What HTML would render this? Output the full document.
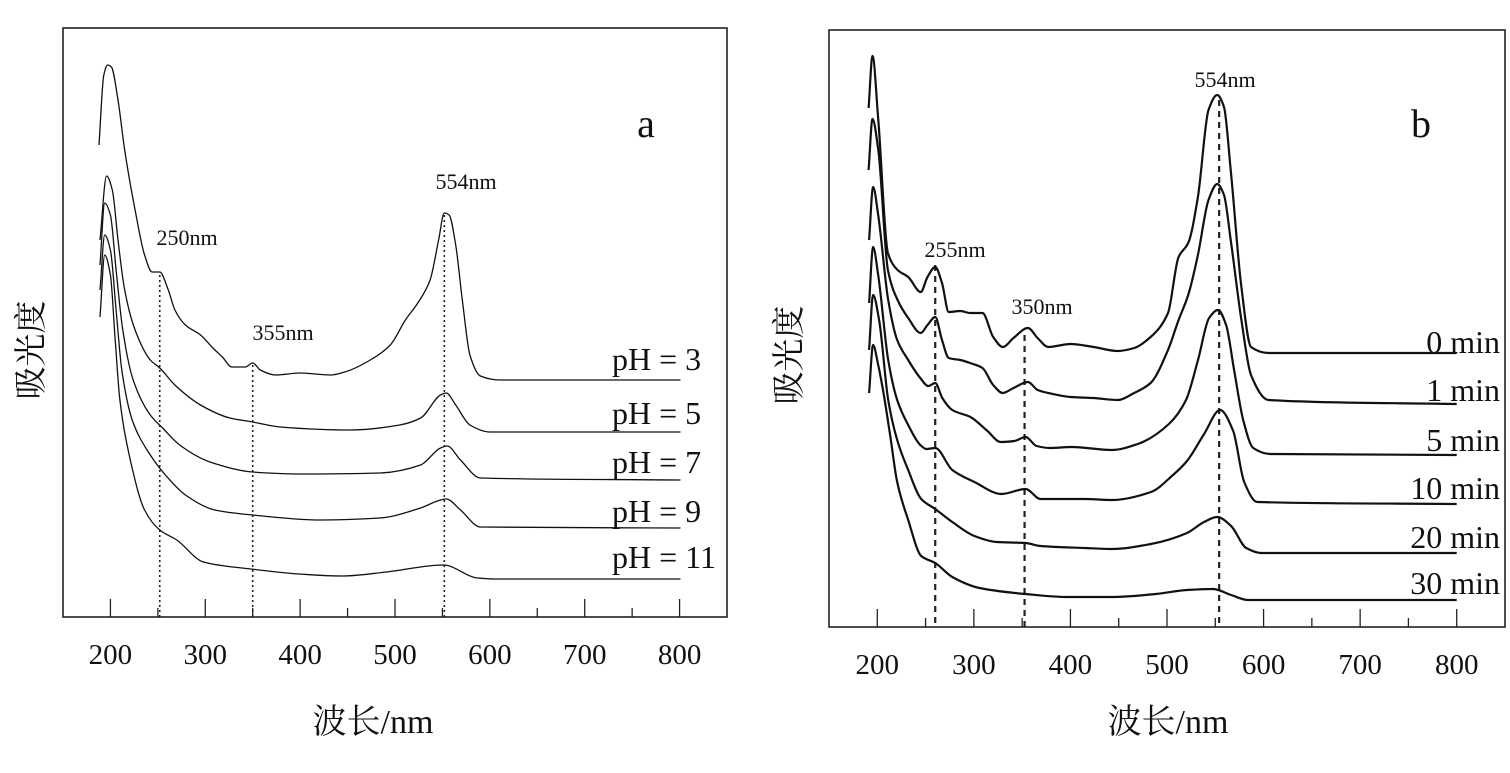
<!DOCTYPE html>
<html><head><meta charset="utf-8">
<style>
html,body{margin:0;padding:0;background:#fff;}
svg{display:block;}
text{font-family:"Liberation Serif","Noto Serif CJK SC","Noto Sans CJK SC",serif;fill:#111;}
</style></head>
<body>
<svg id="chart" width="1510" height="773" viewBox="0 0 1510 773" xmlns="http://www.w3.org/2000/svg"></svg>
<script>
// ---------- Panel a data (wavelength nm, absorbance a.u.) ----------
const aLabels = ["pH = 3","pH = 5","pH = 7","pH = 9","pH = 11"];
const aWl3 = [188,193,197,201,208,215,226,236,244,252,261,268,279,295,308,318,328,342,350,358,374,400,432,447,474,495,511,524,537,546,552,557,564,571,579,590,611,801];
const aAbs3 = [4.72,5.42,5.52,5.50,5.17,4.67,4.07,3.62,3.45,3.45,3.27,3.07,2.92,2.82,2.69,2.60,2.50,2.50,2.54,2.47,2.42,2.44,2.42,2.45,2.57,2.72,2.97,3.14,3.37,3.77,4.04,4.02,3.72,3.17,2.62,2.41,2.37,2.37];
const aWl5 = [189,196,202,208,215,226,242,252,268,295,326,350,379,453,505,527,548,554,564,579,600,801];
const aAbs5 = [3.77,4.41,4.27,3.77,3.27,2.87,2.57,2.49,2.32,2.12,1.99,1.95,1.90,1.87,1.92,1.99,2.22,2.24,2.12,1.92,1.85,1.85];
const aWl7 = [189,194,200,206,213,224,242,255,273,305,350,400,484,527,548,555,569,590,801];
const aAbs7 = [3.52,4.14,4.02,3.47,2.87,2.37,2.02,1.89,1.72,1.55,1.45,1.43,1.44,1.52,1.69,1.71,1.57,1.39,1.37];
const aWl9 = [189,194,200,206,212,223,242,258,279,310,350,421,484,527,548,554,569,590,801];
const aAbs9 = [3.27,3.82,3.67,3.07,2.47,1.97,1.62,1.42,1.22,1.07,1.02,0.97,0.99,1.09,1.17,1.18,1.07,0.90,0.89];
const aWl11 = [189,194,200,205,210,221,236,252,270,298,348,399,445,491,551,587,606,801];
const aAbs11 = [3.00,3.62,3.42,2.77,2.17,1.57,1.07,0.87,0.77,0.55,0.48,0.43,0.41,0.45,0.52,0.39,0.38,0.38];
const aMarkWl = [252,350,552];
const aMarkTop = [3.42,2.52,4.02];
const aMarkText = ["250nm","355nm","554nm"];

// ---------- Panel b data ----------
const bLabels = ["0 min","1 min","5 min","10 min","20 min","30 min"];
const bWl0 = [191,195,201,211,221,232,245,252,260,267,274,286,296,309,320,330,341,356,366,377,400,424,449,466,483,501,512,522,532,543,552,559,566,577,587,605,800];
const bAbs0 = [5.19,5.71,5.07,3.74,3.57,3.50,3.35,3.50,3.60,3.44,3.15,3.16,3.14,3.14,2.90,2.80,2.89,2.99,2.89,2.80,2.83,2.80,2.76,2.79,2.90,3.14,3.70,3.84,4.30,5.17,5.32,5.20,4.57,3.40,2.80,2.74,2.74];
const bWl1 = [191,195,201,211,221,232,245,252,260,267,274,286,296,309,320,330,341,356,366,377,400,424,449,466,483,501,512,522,532,543,552,559,566,577,587,605,800];
const bAbs1 = [4.57,5.08,4.77,3.57,3.27,3.09,2.94,3.02,3.10,2.87,2.69,2.67,2.64,2.59,2.42,2.34,2.39,2.45,2.37,2.34,2.30,2.29,2.27,2.34,2.44,2.77,3.07,3.32,3.72,4.27,4.43,4.32,3.87,3.07,2.52,2.27,2.23];
const bWl5 = [191.5,195.7,200.9,211.3,220.6,232,244.5,252.8,260,267.3,277.7,296.4,314.1,327.6,342.1,353.5,365,378.5,401.3,442.8,469.8,502,519.7,532.1,543.6,552.9,561.2,569.5,578.9,589.3,606.9,800];
const bAbs5 = [3.87,4.40,4.12,3.27,2.87,2.67,2.49,2.41,2.44,2.29,2.17,2.10,1.96,1.85,1.86,1.90,1.81,1.79,1.80,1.77,1.83,2.03,2.27,2.67,3.09,3.17,3.02,2.57,2.07,1.79,1.73,1.72];
const bWl10 = [191.5,195.7,200.9,211.3,220.6,232,244.5,250.7,260,277.7,300.6,328.6,353.5,369.1,414.8,442.8,483.3,506.2,520.7,538.4,555,568.5,579.9,593.4,800];
const bAbs10 = [3.24,3.80,3.52,2.67,2.27,2.02,1.82,1.78,1.79,1.57,1.45,1.33,1.38,1.28,1.28,1.27,1.35,1.52,1.66,1.93,2.17,1.96,1.45,1.25,1.23];
const bWl20 = [191.5,195.7,201.9,211.3,220.6,232,245.5,260,277.7,300.6,323.4,353.5,369.1,414.8,442.8,483.3,520.7,538.4,551.9,566.4,582,597.6,800];
const bAbs20 = [2.77,3.32,3.07,2.27,1.87,1.57,1.28,1.18,1.05,0.91,0.85,0.84,0.81,0.79,0.78,0.83,0.94,1.05,1.10,1.01,0.79,0.74,0.74];
const bWl30 = [191.5,195.7,200.9,205,213.3,220.6,232,245.5,260,277.7,305.8,353.5,397.1,442.8,488.5,520.7,547.7,566.4,584,800];
const bAbs30 = [2.34,2.82,2.62,2.42,1.92,1.45,1.07,0.71,0.64,0.50,0.39,0.33,0.30,0.30,0.33,0.37,0.38,0.32,0.27,0.27];
const bMarkWl = [260,352.5,554];
const bMarkTop = [3.62,2.92,5.27];
const bMarkText = ["255nm","350nm","554nm"];

const xTicks = [200,300,400,500,600,700,800];
const xMinor = [250,350,450,550,650,750];

const NS = "http://www.w3.org/2000/svg";
const svg = document.getElementById("chart");
function mk(tag, attrs, parent){
  const e = document.createElementNS(NS, tag);
  for (const k in attrs) e.setAttribute(k, attrs[k]);
  (parent||svg).appendChild(e);
  return e;
}
// monotone cubic (Fritsch-Carlson) in x -> no overshoot
function smoothPath(pts){
  const n = pts.length;
  const dx=[], dy=[], m=[];
  for (let i=0;i<n-1;i++){ dx.push(pts[i+1][0]-pts[i][0]); dy.push(pts[i+1][1]-pts[i][1]); m.push(dy[i]/dx[i]); }
  const t=[m[0]];
  for (let i=1;i<n-1;i++){
    if (m[i-1]*m[i]<=0) t.push(0);
    else { const w1=2*dx[i]+dx[i-1], w2=dx[i]+2*dx[i-1]; t.push((w1+w2)/(w1/m[i-1]+w2/m[i])); }
  }
  t.push(m[n-2]);
  let d = "M"+pts[0][0].toFixed(1)+","+pts[0][1].toFixed(1);
  for (let i=0;i<n-1;i++){
    const h=dx[i]/3;
    d+=" C"+(pts[i][0]+h).toFixed(1)+","+(pts[i][1]+t[i]*h).toFixed(1)+" "+(pts[i+1][0]-h).toFixed(1)+","+(pts[i+1][1]-t[i+1]*h).toFixed(1)+" "+pts[i+1][0].toFixed(1)+","+pts[i+1][1].toFixed(1);
  }
  return d;
}

function panel(cfg){
  const g = mk("g",{});
  
  
  const xs = wl => cfg.left + (wl-150)*(cfg.right-cfg.left)/700;
  const ys = v => cfg.bottom - v*cfg.yUnit;
  const frame = mk("rect",{x:cfg.left,y:cfg.top,width:cfg.right-cfg.left,height:cfg.bottom-cfg.top,fill:"none",stroke:"#222","stroke-width":1.6},g);
  
  
  xTicks.forEach(t=>{
    const l = mk("line",{x1:xs(t),x2:xs(t),y1:cfg.bottom,y2:cfg.bottom-18,stroke:"#222","stroke-width":1.3},g);
    
    
    const tx = mk("text",{x:xs(t),y:cfg.bottom+47,"text-anchor":"middle","font-size":29},g);
    tx.textContent = t;
    
    
  });
  xMinor.forEach(t=>{
    const l = mk("line",{x1:xs(t),x2:xs(t),y1:cfg.bottom,y2:cfg.bottom-9,stroke:"#222","stroke-width":1.3},g);
    
    
  });
  cfg.marks.forEach((w,i)=>{
    const l = mk("line",{x1:xs(w),x2:xs(w),y1:ys(cfg.markTop[i]),y2:cfg.bottom,stroke:"#222","stroke-width":cfg.dashW,"stroke-dasharray":cfg.dash},g);
    
    
  });
  cfg.series.forEach((s,i)=>{
    const pts = s.wl.map((w,j)=>[xs(w), ys(s.abs[j])]);
    const p = mk("path",{d:smoothPath(pts),fill:"none",stroke:"#111","stroke-width":cfg.lineW,"stroke-linejoin":"round"},g);
    
    
  });
  cfg.labels.forEach((lab,i)=>{
    const t = mk("text",{x:cfg.labelX,y:cfg.labelY[i],"text-anchor":cfg.labelAnchor,"font-size":32},g);
    t.textContent = lab;
    
    
  });
  cfg.markText.forEach((m,i)=>{
    const t = mk("text",{x:cfg.markTextPos[i][0],y:cfg.markTextPos[i][1],"text-anchor":"middle","font-size":22},g);
    t.textContent = m;
    
    
  });
  const pl = mk("text",{x:cfg.letterPos[0],y:cfg.letterPos[1],"text-anchor":"middle","font-size":40},g);
  pl.textContent = cfg.letter;
  
  
  const xt = mk("text",{x:cfg.xTitle[0],y:cfg.xTitle[1],"text-anchor":"middle","font-size":34},g);
  xt.textContent = "波长/nm";
  
  
  const yt = mk("text",{x:0,y:0,"text-anchor":"middle","font-size":33,transform:"translate("+cfg.yTitle[0]+","+cfg.yTitle[1]+") rotate(-90)"},g);
  yt.textContent = "吸光度";
  
  
}

panel({name:"panel-a",left:63,right:727,top:28,bottom:617,yUnit:100,lineW:1.3,dashW:1.6,dash:"2,3",
  series:[{wl:aWl3,abs:aAbs3},{wl:aWl5,abs:aAbs5},{wl:aWl7,abs:aAbs7},{wl:aWl9,abs:aAbs9},{wl:aWl11,abs:aAbs11}],
  labels:aLabels,labelX:612,labelAnchor:"start",
  labelY:[370,424,473,522,568],
  marks:aMarkWl,markTop:aMarkTop,markText:aMarkText,
  markTextPos:[[187,245],[283,340],[466,189]],
  letter:"a",letterPos:[646,137],xTitle:[373,733],yTitle:[42,350]});

panel({name:"panel-b",left:829,right:1505,top:30,bottom:627,yUnit:100,lineW:2.2,dashW:2.2,dash:"6,5",
  series:[{wl:bWl0,abs:bAbs0},{wl:bWl1,abs:bAbs1},{wl:bWl5,abs:bAbs5},{wl:bWl10,abs:bAbs10},{wl:bWl20,abs:bAbs20},{wl:bWl30,abs:bAbs30}],
  labels:bLabels,labelX:1500,labelAnchor:"end",
  labelY:[353,401,451,499,548,594],
  marks:bMarkWl,markTop:bMarkTop,markText:bMarkText,
  markTextPos:[[955,257],[1042,314],[1225,87]],
  letter:"b",letterPos:[1421,137],xTitle:[1168,733],yTitle:[800,355]});
</script>
</body></html>
